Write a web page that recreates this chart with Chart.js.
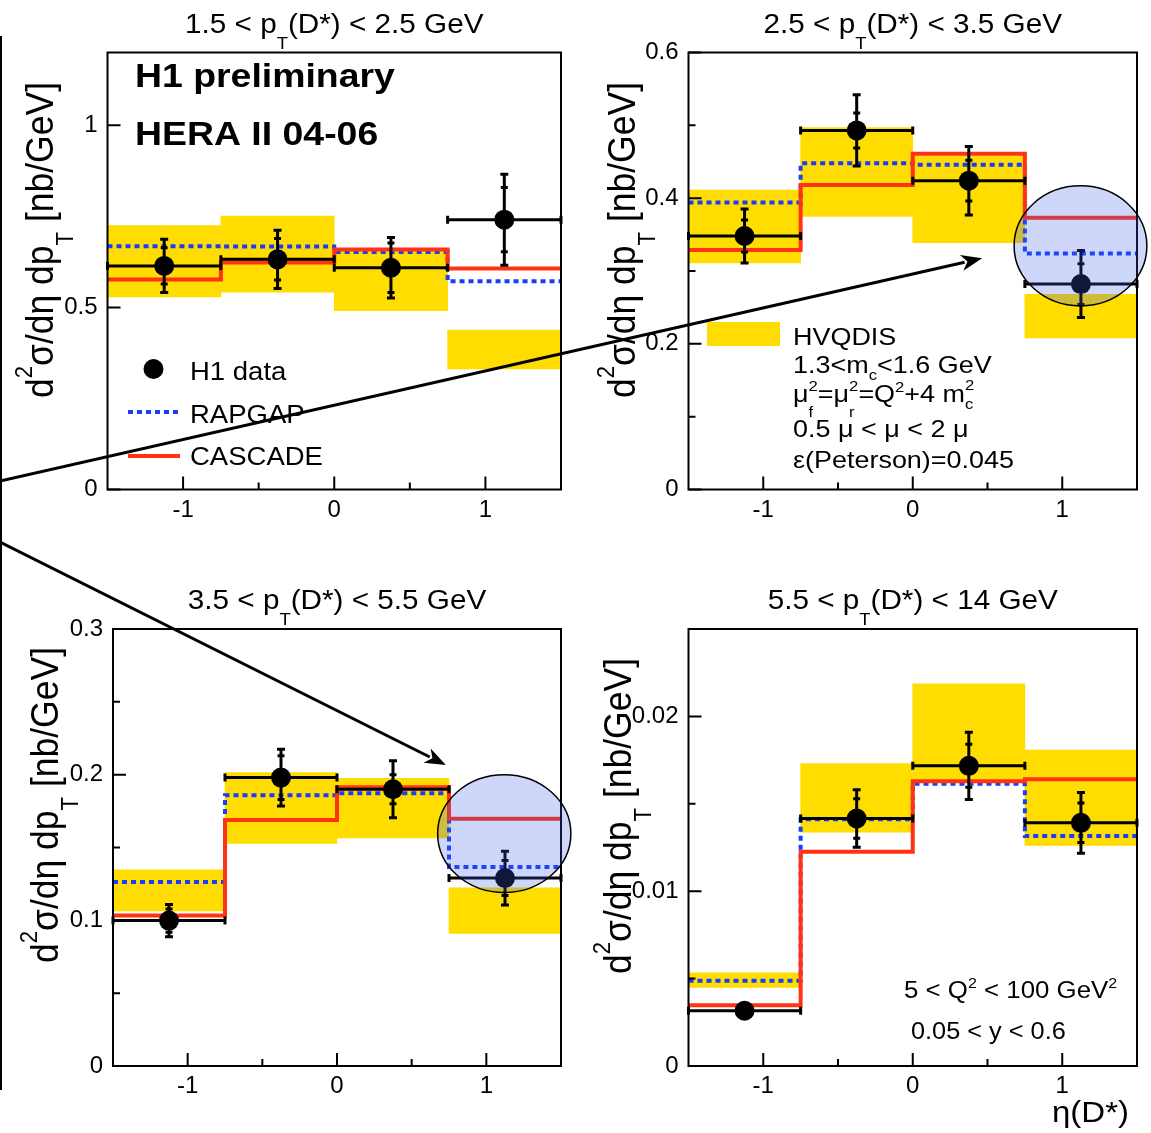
<!DOCTYPE html>
<html>
<head>
<meta charset="utf-8">
<title>D* cross section in eta bins</title>
<script src="https://cdn.jsdelivr.net/npm/chart.js@4.4.1/dist/chart.umd.min.js"></script>
<style>
  body { margin: 0; background: #fff; }
  #page { position: relative; width: 1151px; height: 1133px; overflow: hidden; }
  #page canvas { position: absolute; left: 0; top: 0; }
</style>
</head>
<body>
<div id="page">
  <canvas id="pt1" width="1151" height="1133"></canvas>
  <canvas id="pt2" width="1151" height="1133"></canvas>
  <canvas id="pt3" width="1151" height="1133"></canvas>
  <canvas id="pt4" width="1151" height="1133"></canvas>
</div>
<script>
// eta(D*) binning, the same for every pT slice
const etaEdges = [-1.5, -0.75, 0, 0.75, 1.5];
const etaCentres = [-1.125, -0.375, 0.375, 1.125];
const xTicks = [-1, 0, 1];
const xTickLabels = ['-1', '0', '1'];
const xMinor = [-0.5, 0.5];

// 1.5 < pT < 2.5 GeV
const h1Pt1 = [0.614, 0.632, 0.609, 0.741];
const totPt1 = [0.073, 0.080, 0.083, 0.125];
const statPt1 = [0.050, 0.057, 0.068, 0.088];
const rapgapPt1 = [0.668, 0.667, 0.652, 0.572];
const cascadePt1 = [0.577, 0.623, 0.659, 0.607];
const hvqLoPt1 = [0.529, 0.542, 0.491, 0.331];
const hvqHiPt1 = [0.725, 0.751, 0.655, 0.438];
const yTicksPt1 = [0, 0.5, 1];
const yLabelsPt1 = ['0', '0.5', '1'];
const yMinorPt1 = [];

// 2.5 < pT < 3.5 GeV
const h1Pt2 = [0.348, 0.493, 0.424, 0.282];
const totPt2 = [0.037, 0.049, 0.047, 0.046];
const statPt2 = [0.022, 0.024, 0.028, 0.028];
const rapgapPt2 = [0.394, 0.448, 0.446, 0.324];
const cascadePt2 = [0.329, 0.418, 0.461, 0.373];
const hvqLoPt2 = [0.311, 0.375, 0.339, 0.208];
const hvqHiPt2 = [0.411, 0.497, 0.458, 0.268];
const yTicksPt2 = [0, 0.2, 0.4, 0.6];
const yLabelsPt2 = ['0', '0.2', '0.4', '0.6'];
const yMinorPt2 = [0.1, 0.3, 0.5];

// 3.5 < pT < 5.5 GeV
const h1Pt3 = [0.0998, 0.198, 0.190, 0.129];
const totPt3 = [0.011, 0.0195, 0.0195, 0.0185];
const statPt3 = [0.008, 0.015, 0.010, 0.012];
const rapgapPt3 = [0.1264, 0.1858, 0.1873, 0.1366];
const cascadePt3 = [0.1033, 0.1688, 0.1913, 0.1698];
const hvqLoPt3 = [0.1065, 0.1528, 0.1565, 0.0910];
const hvqHiPt3 = [0.1346, 0.2014, 0.1974, 0.1223];
const yTicksPt3 = [0, 0.1, 0.2, 0.3];
const yLabelsPt3 = ['0', '0.1', '0.2', '0.3'];
const yMinorPt3 = [0.05, 0.15, 0.25];

// 5.5 < pT < 14 GeV
const h1Pt4 = [0.00316, 0.01416, 0.01717, 0.01391];
const totPt4 = [0.0004, 0.00164, 0.00193, 0.00174];
const statPt4 = [0.0003, 0.00113, 0.00123, 0.00113];
const rapgapPt4 = [0.00488, 0.01412, 0.01615, 0.01316];
const cascadePt4 = [0.00348, 0.01225, 0.01629, 0.01641];
const hvqLoPt4 = [0.00449, 0.01338, 0.01629, 0.01262];
const hvqHiPt4 = [0.00533, 0.01730, 0.02186, 0.01807];
const yTicksPt4 = [0, 0.01, 0.02];
const yLabelsPt4 = ['0', '0.01', '0.02'];
const yMinorPt4 = [0.005, 0.015];

// highlighted last bins (data units) and the arrows pointing at them
const ringPt2 = { x: 1.122, y: 0.3345, rx: 0.444, ry: 0.0824 };
const ringPt3 = { x: 1.12, y: 0.1595, rx: 0.446, ry: 0.0404 };
const arrowTips = [
  { canvas: 'pt2', x: 0.464, y: 0.3175, from: [0, 481] },
  { canvas: 'pt3', x: 0.729, y: 0.2066, from: [0, 542] }
];

const YELLOW = 'rgb(255,221,0)';
const RED = 'rgb(255,50,20)';
const BLUE = 'rgb(25,60,255)';
const FONT = '"Liberation Sans", Arial, Helvetica, sans-serif';
const SX = 1.1; // lettering in this figure runs a bit wide

// split "p_{T}" / "Q^{2}" into plain, sub- and superscript pieces;
// "_[0.6]{f}" sets its own drop (in em)
function tokens(str) {
  const out = [];
  const re = /([_^])(?:\[([\d.]+)\])?\{([^}]*)\}/g;
  let last = 0, m;
  while ((m = re.exec(str))) {
    if (m.index > last) out.push({ t: str.slice(last, m.index), k: '' });
    out.push({ t: m[3], k: m[1], shift: m[2] ? parseFloat(m[2]) : null });
    last = re.lastIndex;
  }
  if (last < str.length) out.push({ t: str.slice(last), k: '' });
  return out;
}

function layoutRich(ctx, str, size, weight, subDrop) {
  const small = size * 0.62;
  let x = 0, slot = 0, slotW = 0, prev = '';
  const items = [];
  for (const tk of tokens(str)) {
    const fs = tk.k ? small : size;
    ctx.font = weight + ' ' + fs + 'px ' + FONT;
    const w = ctx.measureText(tk.t).width;
    let dy = 0;
    if (tk.k === '^') dy = -size * (tk.shift !== null ? tk.shift : 0.42);
    if (tk.k === '_') dy = size * (tk.shift !== null ? tk.shift : subDrop);
    if (tk.k && prev && prev !== tk.k) {
      // sub and sup stacked on the same letter
      items.push({ t: tk.t, x: slot, fs, dy });
      x = slot + Math.max(slotW, w);
      prev = '';
      continue;
    }
    items.push({ t: tk.t, x, fs, dy });
    if (tk.k) { slot = x; slotW = w; }
    prev = tk.k;
    x += w;
  }
  return { items, width: x };
}

function drawRich(ctx, str, x, y, size, opts) {
  opts = opts || {};
  const weight = opts.bold ? 'bold' : 'normal';
  const lay = layoutRich(ctx, str, size, weight, opts.sub || 0.3);
  const off = opts.align === 'center' ? -lay.width / 2 : opts.align === 'right' ? -lay.width : 0;
  ctx.save();
  ctx.translate(x, y);
  ctx.scale(SX, 1);
  if (opts.rotate) ctx.rotate(opts.rotate);
  ctx.fillStyle = '#000';
  ctx.textBaseline = 'alphabetic';
  ctx.textAlign = 'left';
  lay.items.forEach(it => {
    ctx.font = weight + ' ' + it.fs + 'px ' + FONT;
    ctx.fillText(it.t, off + it.x, it.dy);
  });
  ctx.restore();
}

function steps(vals) {
  return etaEdges.map((e, i) => ({ x: e, y: vals[Math.min(i, vals.length - 1)] }));
}

function drawArrow(ctx, x0, y0, x1, y1) {
  const a = Math.atan2(y1 - y0, x1 - x0), len = 21, half = 8;
  const bx = x1 - len * Math.cos(a), by = y1 - len * Math.sin(a);
  ctx.beginPath();
  ctx.moveTo(x0, y0);
  ctx.lineTo(bx + 3 * Math.cos(a), by + 3 * Math.sin(a));
  ctx.stroke();
  ctx.beginPath();
  ctx.moveTo(x1, y1);
  ctx.lineTo(bx + half * Math.sin(a), by - half * Math.cos(a));
  ctx.lineTo(bx + 6 * Math.cos(a), by + 6 * Math.sin(a));
  ctx.lineTo(bx - half * Math.sin(a), by + half * Math.cos(a));
  ctx.closePath();
  ctx.fill();
}

// legend for the data and the two MC generators
function drawMainLegend(ctx) {
  drawRich(ctx, 'H1 preliminary', 135, 87, 34, { bold: true });
  drawRich(ctx, 'HERA II 04-06', 135, 145, 34, { bold: true });
  ctx.save();
  ctx.fillStyle = '#000';
  ctx.beginPath();
  ctx.arc(153.5, 369, 10, 0, Math.PI * 2);
  ctx.fill();
  ctx.lineWidth = 4;
  ctx.strokeStyle = BLUE;
  ctx.setLineDash([5, 4]);
  ctx.beginPath(); ctx.moveTo(128, 412); ctx.lineTo(180, 412); ctx.stroke();
  ctx.setLineDash([]);
  ctx.strokeStyle = RED;
  ctx.beginPath(); ctx.moveTo(128, 456); ctx.lineTo(180, 456); ctx.stroke();
  ctx.restore();
  drawRich(ctx, 'H1 data', 190, 380, 25);
  drawRich(ctx, 'RAPGAP', 190, 423, 25);
  drawRich(ctx, 'CASCADE', 190, 465, 25);
}

function drawHvqLegend(ctx) {
  ctx.save();
  ctx.fillStyle = YELLOW;
  ctx.fillRect(707, 322, 73, 24);
  ctx.restore();
  drawRich(ctx, 'HVQDIS', 793, 345, 24.5);
  drawRich(ctx, '1.3<m_{c}<1.6 GeV', 793, 373, 24.5);
  drawRich(ctx, 'μ^[0.45]{2}_[0.6]{f}=μ^[0.45]{2}_[0.6]{r}=Q^{2}+4 m^[0.5]{2}_[0.28]{c}', 793, 402, 24.5);
  drawRich(ctx, '0.5 μ < μ < 2 μ', 793, 437, 24.5);
  drawRich(ctx, 'ε(Peterson)=0.045', 793, 468, 24.5);
}

function drawCuts(ctx) {
  drawRich(ctx, '5 < Q^{2} < 100 GeV^{2}', 904, 998, 23.5);
  drawRich(ctx, '0.05 < y < 0.6', 911, 1039, 23);
  drawRich(ctx, 'η(D*)', 1052, 1122, 30);
  // arrows from the left margin into the two marked bins
  ctx.save();
  ctx.strokeStyle = '#000';
  ctx.fillStyle = '#000';
  ctx.lineWidth = 3;
  arrowTips.forEach(t => {
    const c = Chart.getChart(t.canvas);
    const tx = c.scales.x.getPixelForValue(t.x);
    const ty = c.scales.y.getPixelForValue(t.y);
    drawArrow(ctx, t.from[0], t.from[1], tx, ty);
  });
  ctx.lineWidth = 2;
  ctx.beginPath(); ctx.moveTo(1, 36); ctx.lineTo(1, 1090); ctx.stroke();
  ctx.restore();
}

const panels = [
  { canvas: 'pt1', title: '1.5 < p_{T}(D*) < 2.5 GeV', box: [107.5, 52.5, 561, 489.5], yMax: 1.2,
    h1: h1Pt1, tot: totPt1, stat: statPt1, rapgap: rapgapPt1, cascade: cascadePt1, lo: hvqLoPt1, hi: hvqHiPt1,
    yTicks: yTicksPt1, yLabels: yLabelsPt1, yMinor: yMinorPt1, yTitle: [53, 82], ring: null, extra: drawMainLegend },
  { canvas: 'pt2', title: '2.5 < p_{T}(D*) < 3.5 GeV', box: [688.5, 52.5, 1137, 489.5], yMax: 0.6,
    h1: h1Pt2, tot: totPt2, stat: statPt2, rapgap: rapgapPt2, cascade: cascadePt2, lo: hvqLoPt2, hi: hvqHiPt2,
    yTicks: yTicksPt2, yLabels: yLabelsPt2, yMinor: yMinorPt2, yTitle: [635, 82], ring: ringPt2, extra: drawHvqLegend },
  { canvas: 'pt3', title: '3.5 < p_{T}(D*) < 5.5 GeV', box: [113, 629, 561, 1066], yMax: 0.3,
    h1: h1Pt3, tot: totPt3, stat: statPt3, rapgap: rapgapPt3, cascade: cascadePt3, lo: hvqLoPt3, hi: hvqHiPt3,
    yTicks: yTicksPt3, yLabels: yLabelsPt3, yMinor: yMinorPt3, yTitle: [58, 647], ring: ringPt3, extra: null },
  { canvas: 'pt4', title: '5.5 < p_{T}(D*) < 14 GeV', box: [688.5, 629, 1137, 1066], yMax: 0.025,
    h1: h1Pt4, tot: totPt4, stat: statPt4, rapgap: rapgapPt4, cascade: cascadePt4, lo: hvqLoPt4, hi: hvqHiPt4,
    yTicks: yTicksPt4, yLabels: yLabelsPt4, yMinor: yMinorPt4, yTitle: [631, 658], ring: null, extra: drawCuts }
];

function panelPlugin(p) {
  return {
    id: 'panelDecor',
    afterDatasetsDraw(chart) {
      const { ctx, chartArea: a, scales: { x, y } } = chart;
      ctx.save();
      // frame with inward ticks
      ctx.strokeStyle = '#000';
      ctx.lineWidth = 2;
      ctx.strokeRect(a.left, a.top, a.right - a.left, a.bottom - a.top);
      ctx.beginPath();
      xTicks.forEach(v => { const px = x.getPixelForValue(v); ctx.moveTo(px, a.bottom); ctx.lineTo(px, a.bottom - 13); });
      xMinor.forEach(v => { const px = x.getPixelForValue(v); ctx.moveTo(px, a.bottom); ctx.lineTo(px, a.bottom - 7); });
      p.yTicks.forEach(v => { const py = y.getPixelForValue(v); ctx.moveTo(a.left, py); ctx.lineTo(a.left + 13, py); });
      p.yMinor.forEach(v => { const py = y.getPixelForValue(v); ctx.moveTo(a.left, py); ctx.lineTo(a.left + 7, py); });
      ctx.stroke();

      // H1 error bars: bin width, total and statistical errors
      ctx.lineWidth = 3;
      ctx.beginPath();
      etaCentres.forEach((c, i) => {
        const v = p.h1[i];
        const px = x.getPixelForValue(c), py = y.getPixelForValue(v);
        const xl = x.getPixelForValue(etaEdges[i]), xr = x.getPixelForValue(etaEdges[i + 1]);
        ctx.moveTo(xl, py); ctx.lineTo(xr, py);
        ctx.moveTo(xl, py - 4); ctx.lineTo(xl, py + 4);
        ctx.moveTo(xr, py - 4); ctx.lineTo(xr, py + 4);
        const yt = y.getPixelForValue(v + p.tot[i]), yb = y.getPixelForValue(v - p.tot[i]);
        ctx.moveTo(px, yt); ctx.lineTo(px, yb);
        ctx.moveTo(px - 4, yt); ctx.lineTo(px + 4, yt);
        ctx.moveTo(px - 4, yb); ctx.lineTo(px + 4, yb);
        const st = y.getPixelForValue(v + p.stat[i]), sb = y.getPixelForValue(v - p.stat[i]);
        ctx.moveTo(px - 3.5, st); ctx.lineTo(px + 3.5, st);
        ctx.moveTo(px - 3.5, sb); ctx.lineTo(px + 3.5, sb);
      });
      ctx.stroke();

      if (p.ring) {
        const cx = x.getPixelForValue(p.ring.x), cy = y.getPixelForValue(p.ring.y);
        const rx = Math.abs(x.getPixelForValue(p.ring.x + p.ring.rx) - cx);
        const ry = Math.abs(y.getPixelForValue(p.ring.y + p.ring.ry) - cy);
        ctx.beginPath();
        ctx.ellipse(cx, cy, rx, ry, 0, 0, Math.PI * 2);
        ctx.fillStyle = 'rgba(60,90,230,0.25)';
        ctx.fill();
        ctx.lineWidth = 1.5;
        ctx.strokeStyle = '#000';
        ctx.stroke();
      }
      ctx.restore();
    },
    afterDraw(chart) {
      const { ctx, chartArea: a } = chart;
      drawRich(ctx, p.title, (a.left + a.right) / 2, a.top - 20, 27, { align: 'center', sub: 0.6 });
      drawRich(ctx, 'd^[0.55]{2}σ/dη dp_{T} [nb/GeV]', p.yTitle[0], p.yTitle[1], 35.5,
        { align: 'right', rotate: -Math.PI / 2, sub: 0.5 });
      if (p.extra) p.extra(ctx);
    }
  };
}

const tickFont = { family: FONT, size: 24 };

panels.forEach(p => {
  const [left, top, right, bottom] = p.box;
  new Chart(document.getElementById(p.canvas), {
    type: 'bar',
    data: {
      datasets: [
        {
          type: 'scatter', label: 'H1 data', order: 0,
          data: etaCentres.map((c, i) => ({ x: c, y: p.h1[i] })),
          pointRadius: 10, pointBackgroundColor: '#000', pointBorderWidth: 0
        },
        {
          type: 'line', label: 'CASCADE', order: 1, data: steps(p.cascade), stepped: 'before',
          borderColor: RED, borderWidth: 4, pointRadius: 0, fill: false
        },
        {
          type: 'line', label: 'RAPGAP', order: 2, data: steps(p.rapgap), stepped: 'before',
          borderColor: BLUE, borderWidth: 4, borderDash: [5, 4], pointRadius: 0, fill: false
        },
        {
          type: 'bar', label: 'HVQDIS', order: 3,
          data: etaCentres.map((c, i) => ({ x: c, y: [p.lo[i], p.hi[i]] })),
          backgroundColor: YELLOW, borderWidth: 0, categoryPercentage: 1, barPercentage: 1, grouped: false
        }
      ]
    },
    options: {
      responsive: false,
      animation: false,
      devicePixelRatio: 1,
      events: [],
      layout: { padding: { left: left - 70, top: top, right: 1151 - right, bottom: 1133 - bottom - 44 } },
      plugins: { legend: { display: false }, tooltip: { enabled: false } },
      scales: {
        x: {
          type: 'linear', min: -1.5, max: 1.5, offset: false,
          grid: { display: false, drawTicks: false, offset: false }, border: { display: false },
          afterBuildTicks: s => { s.ticks = xTicks.map(v => ({ value: v })); },
          afterFit: s => { s.height = 44; },
          ticks: { autoSkip: false, maxRotation: 0, padding: 6, color: '#000', font: tickFont,
            callback: (v, i) => xTickLabels[i] }
        },
        y: {
          type: 'linear', min: 0, max: p.yMax,
          grid: { display: false, drawTicks: false }, border: { display: false },
          afterBuildTicks: s => { s.ticks = p.yTicks.map(v => ({ value: v })); },
          afterFit: s => { s.width = 70; },
          ticks: { autoSkip: false, padding: 10, color: '#000', font: tickFont,
            callback: (v, i) => p.yLabels[i] }
        }
      }
    },
    plugins: [panelPlugin(p)]
  });
});
</script>
</body>
</html>
